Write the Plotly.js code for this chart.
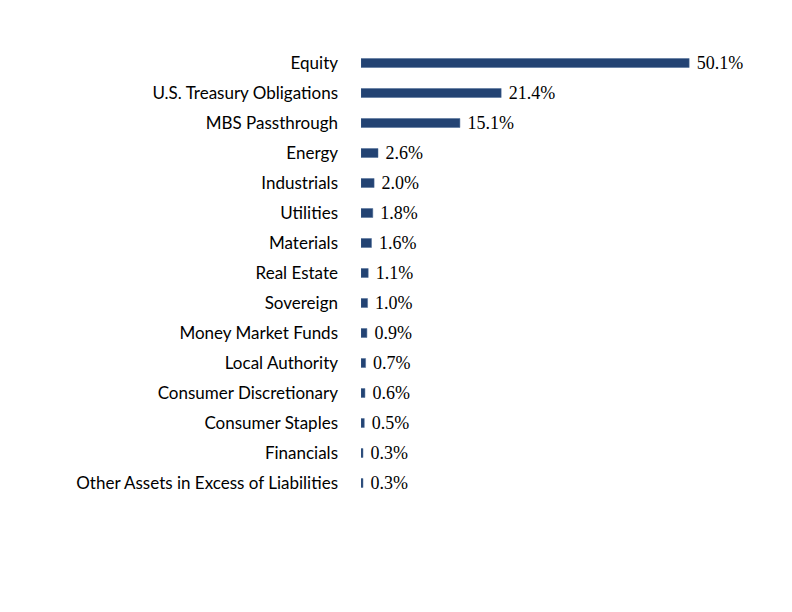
<!DOCTYPE html>
<html>
<head>
<meta charset="utf-8">
<script src="https://cdn.plot.ly/plotly-3.0.1.min.js"></script>
<style>html,body{margin:0;padding:0;background:#fff;}#chart{width:792px;height:612px;}</style>
</head>
<body>
<div id="chart"></div>
<script>
const categories = ["Equity","U.S. Treasury Obligations","MBS Passthrough","Energy","Industrials","Utilities","Materials","Real Estate","Sovereign","Money Market Funds","Local Authority","Consumer Discretionary","Consumer Staples","Financials","Other Assets in Excess of Liabilities"];
const values = [50.1,21.4,15.1,2.6,2.0,1.8,1.6,1.1,1.0,0.9,0.7,0.6,0.5,0.3,0.3];
const valueLabels = values.map(v => "\u00a0" + v.toFixed(1) + "%");

const trace = {
  type: "bar",
  orientation: "h",
  y: categories,
  x: values,
  text: valueLabels,
  textposition: "outside",
  constraintext: "none",
  cliponaxis: false,
  textfont: {family: "Liberation Serif, Times New Roman, serif", size: 18, color: "#000"},
  marker: {color: "#234373", line: {color: "#4a6a96", width: 0.5}},
  width: 0.3,
  hoverinfo: "none"
};

const layout = {
  width: 792, height: 612,
  margin: {l: 361, r: 38, t: 48, b: 114},
  paper_bgcolor: "#fff", plot_bgcolor: "#fff",
  showlegend: false,
  xaxis: {range: [0, 60], visible: false, fixedrange: true},
  yaxis: {autorange: "reversed", showgrid: false, zeroline: false, showline: false,
          ticks: "", ticklabelstandoff: 22,
          tickfont: {family: "Lato, Carlito, Calibri, sans-serif", size: 17, color: "#000"}},
  bargap: 0.7
};

Plotly.newPlot("chart", [trace], layout, {displayModeBar: false, staticPlot: true});
</script>
</body>
</html>
